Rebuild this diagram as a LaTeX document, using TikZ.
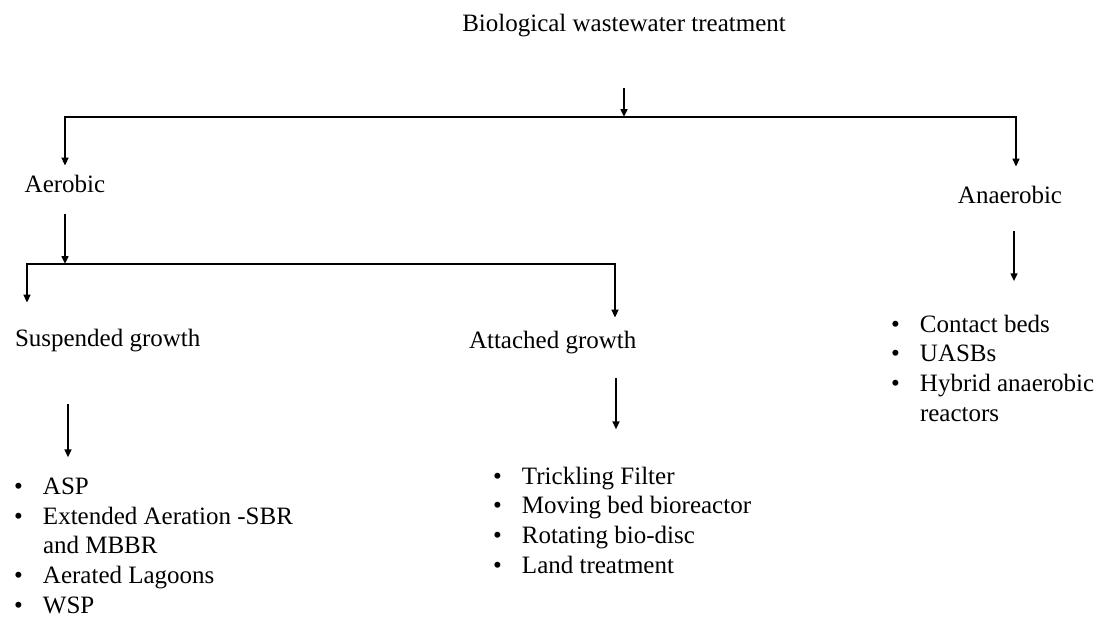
\documentclass[tikz,border=0pt]{standalone}
\usepackage{fontspec}
\setmainfont{Liberation Serif}
\usepackage{tikz}
\usetikzlibrary{arrows.meta, positioning, calc}

\newcommand{\itm}{\makebox[14.5pt][l]{\textbullet}}
\newcommand{\cnt}{\hspace*{14.5pt}}

\begin{document}
\begin{tikzpicture}[
        x=0.5pt, y=-0.5pt,
        lbl/.style={inner sep=0pt, font=\fontsize{12.5}{14.8}\selectfont},
        lst/.style={lbl, align=left, anchor=base west},
        arr/.style={-{Triangle[length=4pt, width=3.4pt]}},
        line width=1pt
    ]
\useasboundingbox (0,0) rectangle (1097,617);

% Root
\node[lbl, anchor=base] (title) at (624,31) {Biological wastewater treatment};

% First level
\node[lbl, anchor=base] (aer)   at (65,192)   {Aerobic};
\node[lbl, anchor=base] (anaer) at (1010,203) {Anaerobic};

% Second level
\node[lbl, anchor=base west] (sus) at (14,346)  {Suspended growth};
\node[lbl, anchor=base west] (att) at (468,348) {Attached growth};

% Lists of processes (placed by the baseline of their last line)
\node[lst] (suslist) at (13,613) {\itm ASP\\
    \itm Extended Aeration -SBR\\
    \cnt and MBBR\\
    \itm Aerated Lagoons\\
    \itm WSP};
\node[lst] (attlist) at (492,573) {\itm Trickling Filter\\
    \itm Moving bed bioreactor\\
    \itm Rotating bio-disc\\
    \itm Land treatment};
\node[lst] (anlist) at (890,421) {\itm Contact beds\\
    \itm UASBs\\
    \itm Hybrid anaerobic\\
    \cnt reactors};

% Branch points
\coordinate (j0) at (624,117);
\coordinate (j1) at (65,264);

% Root to first level
\draw[arr] (title.south) ++(0,51) -- (j0);
\draw[arr] (j0) -| ($(aer.north)+(0,-8)$);
\draw[arr] (j0) -| ($(anaer.north)+(6,-18)$);

% Aerobic to growth types
\draw[arr] (aer.south) ++(0,21) -- (j1);
\draw[arr] (j1) -| ($(sus.north west)+(13,-25)$);
\draw[arr] (j1) -| ($(att.north west)+(147,-12)$);

% Down to the lists
\draw[arr] ($(sus.south west)+(54,52)$) -- ($(sus.south west)+(54,105)$);
\draw[arr] ($(att.south west)+(148,24)$) -- ($(att.south west)+(148,75)$);
\draw[arr] ($(anaer.south)+(4,27)$) -- ($(anaer.south)+(4,77)$);
\end{tikzpicture}
\end{document}
